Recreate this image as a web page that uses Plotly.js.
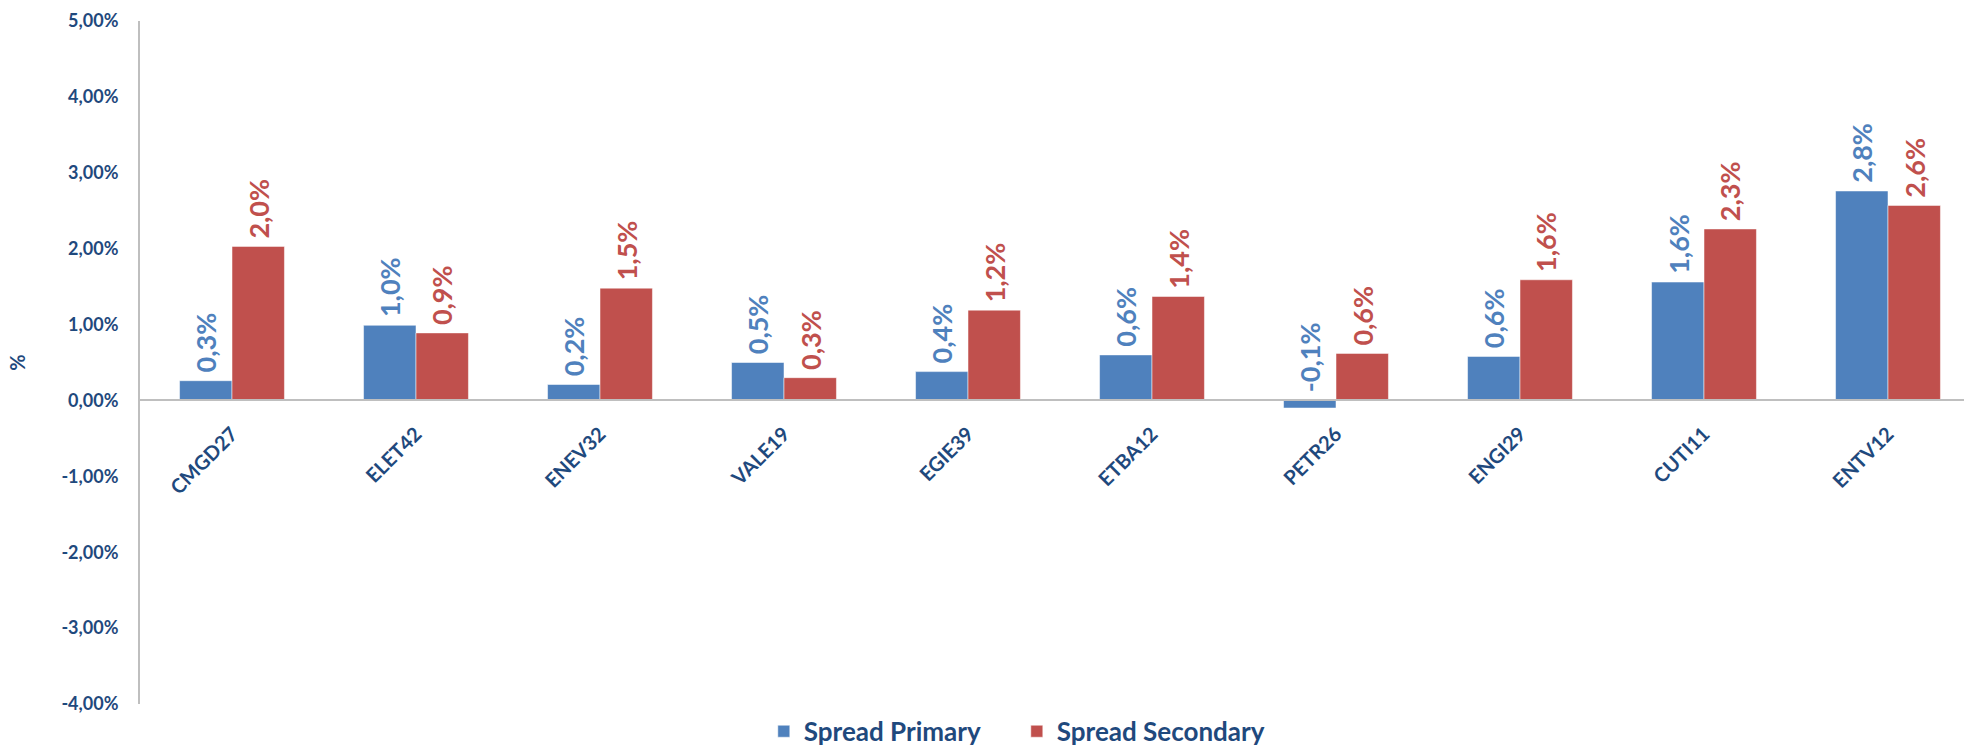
<!DOCTYPE html>
<html>
<head>
<meta charset="utf-8">
<script src="https://cdn.plot.ly/plotly-3.0.1.min.js"></script>
<style>html,body{margin:0;padding:0;background:#fff;}#chart{width:1964px;height:746px;}</style>
</head>
<body>
<div id="chart"></div>
<script>
const categories = ['CMGD27','ELET42','ENEV32','VALE19','EGIE39','ETBA12','PETR26','ENGI29','CUTI11','ENTV12'];
const spreadPrimary = [0.26, 0.99, 0.21, 0.50, 0.38, 0.60, -0.10, 0.58, 1.56, 2.76];
const spreadSecondary = [2.03, 0.89, 1.48, 0.30, 1.19, 1.37, 0.62, 1.59, 2.26, 2.57];
const tickVals = [-4, -3, -2, -1, 0, 1, 2, 3, 4, 5];
const tickText = ['-4,00%','-3,00%','-2,00%','-1,00%','0,00%','1,00%','2,00%','3,00%','4,00%','5,00%'];
const seriesNames = ['Spread Primary', 'Spread Secondary'];
const seriesColors = ['#4F81BD', '#C0504D'];

const BARGAP = 0.43;
const navy = '#1F497D';
const fontFam = 'Lato, "Open Sans", sans-serif';

function fmt(v) { return v.toFixed(1).replace('.', ',') + '%'; }

const traces = [spreadPrimary, spreadSecondary].map((vals, k) => ({
  type: 'bar',
  name: seriesNames[k],
  x: categories,
  y: vals,
  marker: { color: seriesColors[k], line: { color: 'rgba(255,255,255,0.5)', width: 1 } },
  hoverinfo: 'x+y'
}));

const annotations = [];
[spreadPrimary, spreadSecondary].forEach((vals, k) => {
  const off = (k === 0 ? -1 : 1) * (1 - BARGAP) / 4;
  vals.forEach((v, i) => {
    annotations.push({
      x: i + off, y: Math.max(v, 0), xref: 'x', yref: 'y',
      text: fmt(v), showarrow: false, textangle: -90,
      xanchor: 'center', yanchor: 'bottom', yshift: 6,
      font: { family: fontFam, size: 27, color: seriesColors[k], weight: 700 }
    });
  });
});

const yMin = -4, yMax = 5;
const layout = {
  width: 1964, height: 746,
  margin: { l: 140, r: 0, t: 21, b: 42, autoexpand: false },
  paper_bgcolor: '#fff', plot_bgcolor: '#fff',
  barmode: 'group', bargap: BARGAP, bargroupgap: 0,
  showlegend: true,
  legend: {
    orientation: 'h', x: 0.342, xanchor: 'left', y: -0.04, yanchor: 'middle',
    font: { family: fontFam, size: 26, color: navy, weight: 700 },
    itemwidth: 30, traceorder: 'normal',
    entrywidth: 208, entrywidthmode: 'pixels'
  },
  xaxis: {
    type: 'category',
    range: [-0.5, -0.5 + 1824 / 184],
    anchor: 'free', position: (0 - yMin) / (yMax - yMin),
    showline: true, linecolor: '#BFBFBF', linewidth: 2,
    showgrid: false, zeroline: false, ticks: '',
    tickangle: -45,
    tickfont: { family: fontFam, size: 20, color: navy, weight: 700 },
    ticklabelstandoff: 13,
    automargin: false, fixedrange: true
  },
  yaxis: {
    range: [yMin, yMax],
    tickvals: tickVals, ticktext: tickText,
    showline: true, linecolor: '#BFBFBF', linewidth: 2,
    showgrid: false, zeroline: false, ticks: '',
    tickfont: { family: fontFam, size: 18, color: navy, weight: 700 },
    ticklabelstandoff: 16,
    title: { text: '%', font: { family: fontFam, size: 20, color: navy, weight: 700 }, standoff: 30 },
    automargin: false, fixedrange: true
  },
  annotations: annotations
};

Plotly.newPlot('chart', traces, layout, { displayModeBar: false, staticPlot: true });
</script>
</body>
</html>
